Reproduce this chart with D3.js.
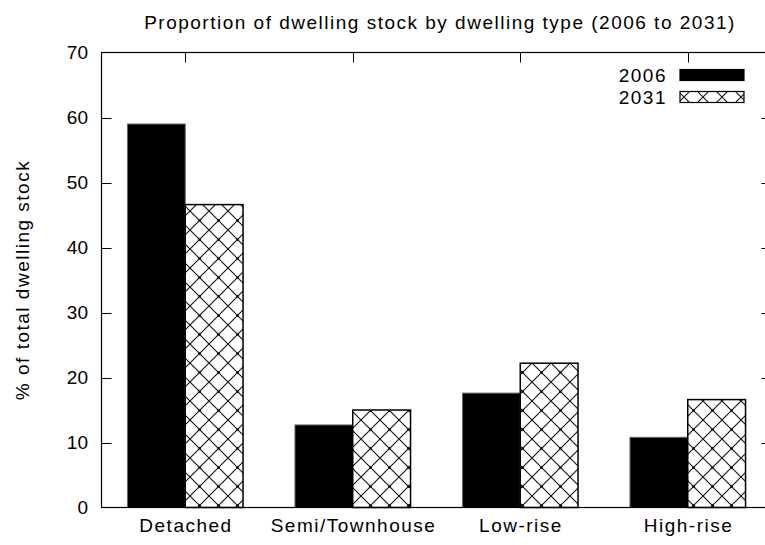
<!DOCTYPE html>
<html><head><meta charset="utf-8">
<script src="https://cdn.jsdelivr.net/npm/d3@7"></script>
<style>
html,body{margin:0;padding:0;background:#fff;}
svg{display:block;}
text{font-family:"Liberation Sans",Arial,sans-serif;fill:#000;}
</style></head>
<body>
<svg id="chart" width="765" height="545"></svg>
<script>
const categories = ["Detached", "Semi/Townhouse", "Low-rise", "High-rise"];
const seriesNames = ["2006", "2031"];
const values2006 = [59.0, 12.7, 17.6, 10.8];
const values2031 = [46.6, 15.0, 22.2, 16.6];
const yTicks = [0, 10, 20, 30, 40, 50, 60, 70];
const titleText = "Proportion of dwelling stock by dwelling type (2006 to 2031)";
const yLabel = "% of total dwelling stock";

(function () {
const svg = d3.select("#chart");
const pLeft = 101.5, pRight = 771.5, pTop = 52.5, pBottom = 507.5;
const FS = 19, LS = 1.5;

const defs = svg.append("defs");
const pat = defs.append("pattern").attr("id", "xhatch")
  .attr("patternUnits", "userSpaceOnUse").attr("width", 19).attr("height", 19)
  .attr("x", 0).attr("y", 2);
pat.append("rect").attr("width", 19).attr("height", 19).attr("fill", "#fff");
pat.append("path").attr("d", "M0,0L19,19M19,0L0,19M-1,18L1,20M18,-1L20,1")
  .attr("stroke", "#111").attr("stroke-width", 1.1).attr("fill", "none");
pat.append("circle").attr("cx", 9.5).attr("cy", 9.5).attr("r", 1.2).attr("fill", "#000");

const x = d3.scaleLinear().domain([-0.5, 3.5]).range([pLeft, pRight]);
const y = d3.scaleLinear().domain([0, 70]).range([pBottom, pTop]);
const bw = 0.345;

const data = categories.map((c, i) => ({ c, i, v: [values2006[i], values2031[i]] }));

const g = svg.append("g");
data.forEach(d => {
  g.append("rect")
    .attr("x", x(d.i - bw)).attr("width", x(d.i) - x(d.i - bw))
    .attr("y", y(d.v[0])).attr("height", y(0) - y(d.v[0]))
    .attr("fill", "#000").attr("stroke", "#666").attr("stroke-width", 1);
  g.append("rect")
    .attr("x", x(d.i)).attr("width", x(d.i + bw) - x(d.i))
    .attr("y", y(d.v[1])).attr("height", y(0) - y(d.v[1]))
    .attr("fill", "url(#xhatch)").attr("stroke", "#000").attr("stroke-width", 1.5);
});

svg.append("rect").attr("x", pLeft).attr("y", pTop)
  .attr("width", pRight - pLeft).attr("height", pBottom - pTop)
  .attr("fill", "none").attr("stroke", "#000").attr("stroke-width", 1.2);

const tl = 10;
yTicks.forEach(t => {
  const yy = Math.round(y(t)) + 0.5;
  if (t > 0 && t < 70) {
    svg.append("line").attr("x1", pLeft).attr("x2", pLeft + tl).attr("y1", yy).attr("y2", yy)
      .attr("stroke", "#000").attr("stroke-width", 1);
    svg.append("line").attr("x1", pRight - tl).attr("x2", pRight).attr("y1", yy).attr("y2", yy)
      .attr("stroke", "#000").attr("stroke-width", 1);
  }
  svg.append("text").attr("x", 88).attr("y", y(t)).attr("dy", "0.36em")
    .attr("text-anchor", "end").attr("font-size", FS).text(t);
});

categories.forEach((c, i) => {
  const xx = Math.round(x(i)) + 0.5;
  svg.append("line").attr("x1", xx).attr("x2", xx).attr("y1", pTop).attr("y2", pTop + tl)
    .attr("stroke", "#000").attr("stroke-width", 1);
  svg.append("text").attr("x", x(i) + LS / 2).attr("y", 532)
    .attr("text-anchor", "middle").attr("font-size", FS)
    .attr("letter-spacing", LS).text(c);
});

svg.append("text").attr("x", 440).attr("y", 29).attr("text-anchor", "middle")
  .attr("font-size", FS).attr("letter-spacing", LS).text(titleText);

svg.append("text").attr("transform", `translate(29,${(pTop + pBottom) / 2}) rotate(-90)`)
  .attr("text-anchor", "middle").attr("font-size", FS).attr("letter-spacing", LS).text(yLabel);

const legY = [75, 97];
seriesNames.forEach((s, k) => {
  svg.append("text").attr("x", 667).attr("y", legY[k]).attr("dy", "0.36em")
    .attr("text-anchor", "end").attr("font-size", FS).attr("letter-spacing", LS).text(s);
  svg.append("rect").attr("x", 680).attr("y", legY[k] - 5.5).attr("width", 64).attr("height", 11)
    .attr("fill", k === 0 ? "#000" : "url(#xhatch)")
    .attr("stroke", "#000").attr("stroke-width", 1.2);
});
})();
</script>
</body></html>
